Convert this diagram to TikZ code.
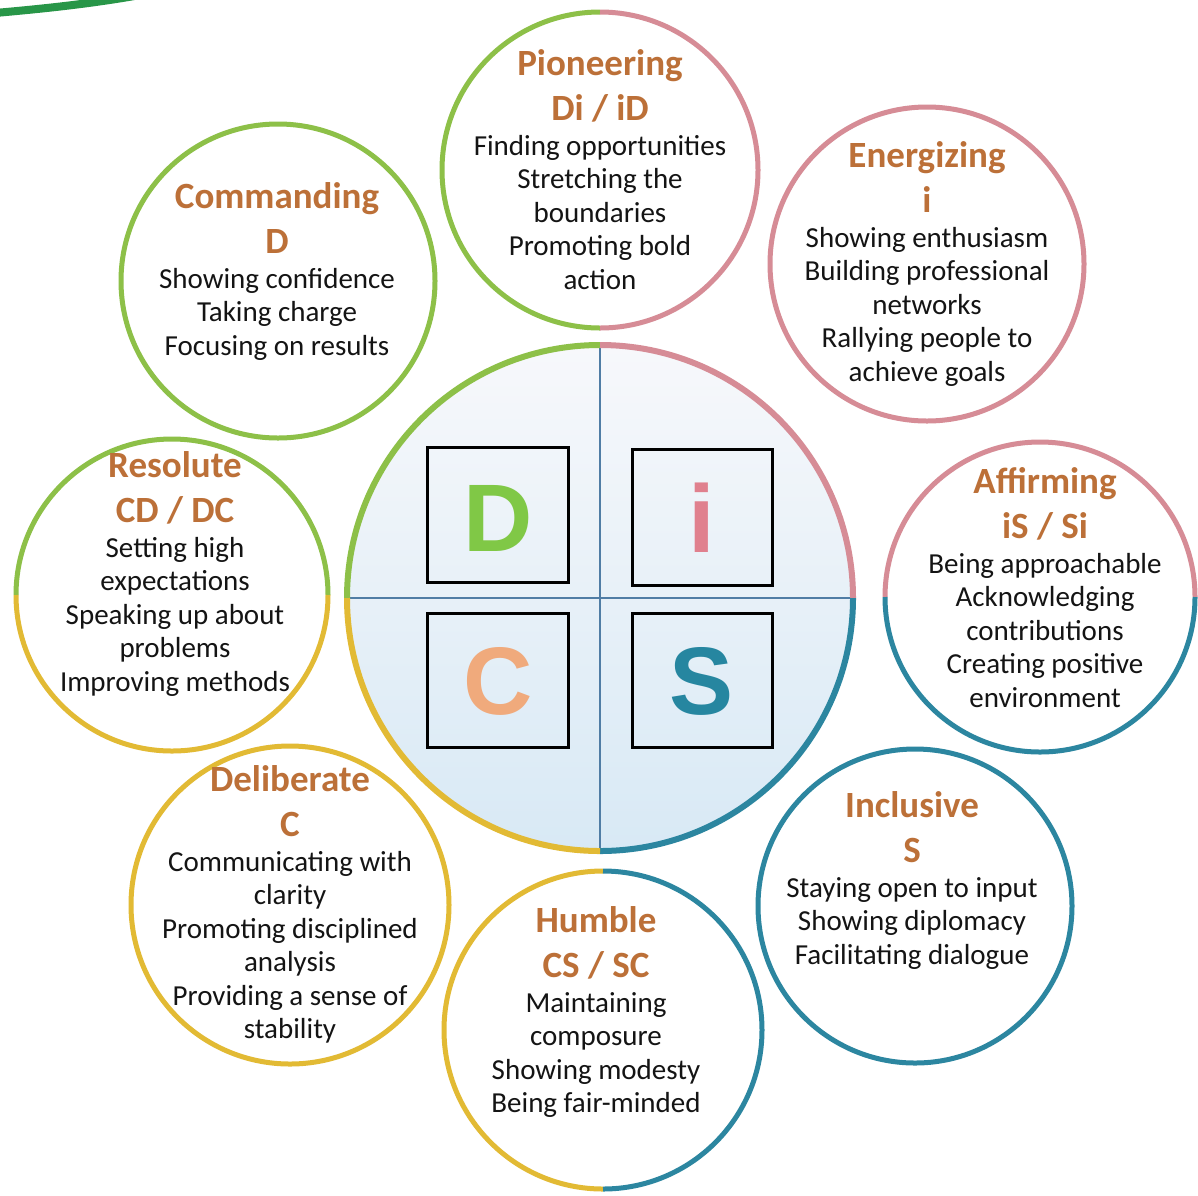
\documentclass[tikz,border=0pt]{standalone}
\usepackage{fontspec}
\setmainfont{Carlito}
\newfontfamily\letterfont{Liberation Sans}
\definecolor{rgreen}{RGB}{141,192,72}
\definecolor{rpink}{RGB}{214,140,150}
\definecolor{rteal}{RGB}{44,134,160}
\definecolor{ryellow}{RGB}{226,186,52}
\definecolor{titlec}{RGB}{188,112,56}
\definecolor{bodyc}{RGB}{20,20,20}
\definecolor{topgreen}{RGB}{40,150,72}
\definecolor{lgreen}{RGB}{128,200,70}
\definecolor{lpink}{RGB}{224,128,142}
\definecolor{lpeach}{RGB}{240,170,124}
\definecolor{lteal}{RGB}{38,134,160}
\definecolor{divc}{RGB}{80,125,165}
\definecolor{shtop}{RGB}{247,248,251}
\definecolor{shbot}{RGB}{216,233,245}
\newcommand\sattext[6]{%
  \node[ttl] (#1-t) at (#2,#3) {#4};
  \node[ttl] (#1-s) at (#2,#3+45) {#5};
  \foreach \ln [count=\k] in {#6}
    \node[bdy] (#1-\k) at (#2,#3+80+33.5*\k-33.5) {\ln};
}
\begin{document}
\begin{tikzpicture}[x=1pt,y=-1pt,
  ring/.style={line width=5pt},
  sat/.style={circle,inner sep=0pt,line width=5pt},
  ttl/.style={anchor=base,inner sep=0pt,text=titlec,font=\fontsize{37}{45}\selectfont\bfseries},
  bdy/.style={anchor=base,inner sep=0pt,text=bodyc,font=\fontsize{29}{34}\selectfont},
  lbox/.style={draw=black,line width=3pt},
  letter/.style={anchor=base,inner sep=0pt,font=\fontsize{96}{100}\selectfont\letterfont\bfseries}]
\fill[white] (0,0) rectangle (1198,1195);
\useasboundingbox (0,0) rectangle (1198,1195);
% top-left arc
\draw[topgreen,line width=8pt] (-5,13) .. controls (40,9) and (90,4) .. (140,-5);
% satellites
\node[sat,draw=rgreen,minimum size=314] (cmd) at (278,281) {};
\node[sat,minimum size=316] (pio) at (600,170) {};
\draw[ring,rgreen] (pio.center) ++(90:158) arc (90:270:158);
\draw[ring,rpink] (pio.center) ++(270:158) arc (270:450:158);
\node[sat,draw=rpink,minimum size=314] (ene) at (927,264) {};
\node[sat,minimum size=310] (aff) at (1040,597) {};
\draw[ring,rpink] (aff.center) ++(180:155) arc (180:360:155);
\draw[ring,rteal] (aff.center) ++(0:155) arc (0:180:155);
\node[sat,draw=rteal,minimum size=314] (inc) at (915,906) {};
\node[sat,minimum size=318] (hum) at (603,1030) {};
\draw[ring,ryellow] (hum.center) ++(90:159) arc (90:270:159);
\draw[ring,rteal] (hum.center) ++(270:159) arc (270:450:159);
\node[sat,draw=ryellow,minimum size=318] (del) at (290,905) {};
\node[sat,minimum size=312] (res) at (172,595) {};
\draw[ring,rgreen] (res.center) ++(180:156) arc (180:360:156);
\draw[ring,ryellow] (res.center) ++(0:156) arc (0:180:156);
% central circle
\node[circle,inner sep=0pt,minimum size=506] (disc) at (600,598) {};
\shade[top color=shtop,bottom color=shbot] (disc.center) circle (253);
\draw[divc,line width=1.2pt] (disc.north) -- (disc.south);
\draw[divc,line width=1.2pt] (disc.west) -- (disc.east);
\draw[line width=6pt,rgreen] (disc.center) ++(180:253) arc (180:270:253);
\draw[line width=6pt,rpink] (disc.center) ++(270:253) arc (270:360:253);
\draw[line width=6pt,rteal] (disc.center) ++(0:253) arc (0:90:253);
\draw[line width=6pt,ryellow] (disc.center) ++(90:253) arc (90:180:253);
% letter boxes
\draw[lbox] (427,447) rectangle (568,582);
\draw[lbox] (632,449) rectangle (772,585);
\draw[lbox] (427,613) rectangle (568,747);
\draw[lbox] (632,613) rectangle (772,747);
\node[letter,text=lgreen] (lD) at (498,551) {D};
\node[letter,text=lpink] (li) at (702,552) {i};
\node[letter,text=lpeach] (lC) at (498,714) {C};
\node[letter,text=lteal] (lS) at (702,714) {S};
% texts
\sattext{cmd}{277}{208}{Commanding}{D}{Showing confidence, Taking charge, Focusing on results}
\sattext{pio}{600}{75}{Pioneering}{Di / iD}{Finding opportunities, Stretching the, boundaries, Promoting bold, action}
\sattext{ene}{927}{167}{Energizing}{i}{Showing enthusiasm, Building professional, networks, Rallying people to, achieve goals}
\sattext{aff}{1045}{493}{Affirming}{iS / Si}{Being approachable, Acknowledging, contributions, Creating positive, environment}
\sattext{inc}{912}{817}{Inclusive}{S}{Staying open to input, Showing diplomacy, Facilitating dialogue}
\sattext{hum}{596}{932}{Humble}{CS / SC}{Maintaining, composure, Showing modesty, Being fair-minded}
\sattext{del}{290}{791}{Deliberate}{C}{Communicating with, clarity, Promoting disciplined, analysis, Providing a sense of, stability}
\sattext{res}{175}{477}{Resolute}{CD / DC}{Setting high, expectations, Speaking up about, problems, Improving methods}
\end{tikzpicture}
\end{document}
